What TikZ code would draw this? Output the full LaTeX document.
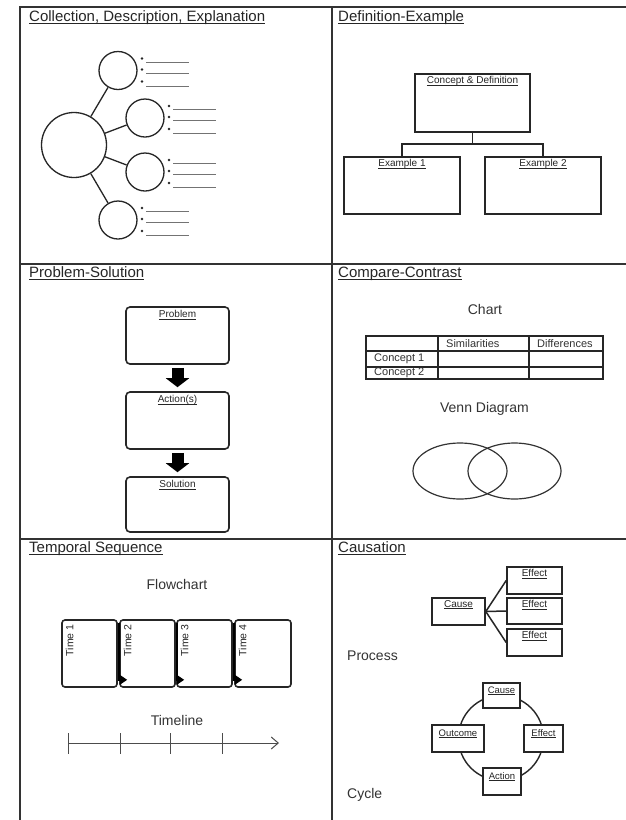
\documentclass[tikz,border=0pt]{standalone}
\usepackage{fontspec}
\setmainfont{Liberation Sans}
\usetikzlibrary{arrows.meta,calc,shapes.geometric}
\newsavebox{\myulbox}
\newcommand{\myul}[1]{\sbox{\myulbox}{#1}\rlap{\rule[-0.16em]{\wd\myulbox}{0.07em}}\usebox{\myulbox}}
\tikzset{
  frame/.style={line width=1.6pt, draw=black!80},
  title/.style={anchor=base west, inner sep=0pt, font=\fontsize{15}{15}\selectfont, text=black!85},
  sub/.style={anchor=base, inner sep=0pt, font=\fontsize{14}{14}\selectfont, text=black!80},
  box/.style={draw=black!85, line width=1.6pt, inner sep=0pt, fill=white},
  rbox/.style={box, rounded corners=4pt},
  lbl/.style={anchor=north, inner sep=0pt, font=\fontsize{10}{10}\selectfont, text=black!85},
  bigc/.style={circle, draw=black!85, line width=1.3pt, minimum size=65pt, inner sep=0pt},
  smallc/.style={circle, draw=black!85, line width=1.3pt, minimum size=38pt, inner sep=0pt},
  spoke/.style={draw=black!85, line width=1.3pt},
  listline/.style={draw=black!55, line width=0.8pt},
  conn/.style={draw=black!85, line width=1.5pt},
  blockar/.style={draw=black, line width=12pt, -{Triangle[length=9pt,width=23pt]}, shorten <=3pt, shorten >=4pt},
  tab/.style={draw=black!85, line width=1.3pt},
  tabt/.style={anchor=west, inner sep=0pt, font=\fontsize{11}{11}\selectfont, text=black!80},
  venn/.style={ellipse, draw=black!80, line width=1.2pt, inner sep=0pt},
  flowar/.style={draw=black, line width=2pt, -{Triangle[length=7pt,width=9pt]}},
  tlline/.style={draw=black!70, line width=1pt},
}
\begin{document}
\begin{tikzpicture}[x=1pt,y=-1pt]
\useasboundingbox (0,0) rectangle (626,820);
\fill[white] (0,0) rectangle (626,820);
% frame
\draw[frame] (626,7) -- (20,7) -- (20,820);
\draw[frame] (332,7) -- (332,820);
\draw[frame] (20,264) -- (626,264);
\draw[frame] (20,539) -- (626,539);
% titles
\node[title] (T1) at (29,21.5) {\myul{Collection, Description, Explanation}};
\node[title] (T2) at (338,21.5) {\myul{Definition-Example}};
\node[title] (T3) at (29,277.5) {\myul{Problem-Solution}};
\node[title] (T4) at (338,277.5) {\myul{Compare-Contrast}};
\node[title] (T5) at (29,552.5) {\myul{Temporal Sequence}};
\node[title] (T6) at (338,552.5) {\myul{Causation}};

% ---- panel 1
\node[bigc] (c0) at (74,145) {};
\node[smallc] (c1) at (118,70.5) {};
\node[smallc] (c2) at (145,118) {};
\node[smallc] (c3) at (145,172) {};
\node[smallc] (c4) at (118,220) {};
\foreach \c in {c1,c2,c3,c4} {
  \draw[spoke] (c0) -- (\c);
  \foreach \dy/\ly in {-12/-8.5,-1/2.5,11/15.5} {
    \fill[black!85] ($(\c)+(24,\dy)$) circle (1.3);
    \draw[listline] ($(\c)+(28,\ly)$) -- ++(43,0);
  }
}

% ---- panel 2
\node[box, minimum width=115pt, minimum height=58pt] (cd) at (472.5,103) {};
\node[box, minimum width=116pt, minimum height=57pt] (ex1) at (402,185.5) {};
\node[box, minimum width=116pt, minimum height=57pt] (ex2) at (543,185.5) {};
\node[lbl] (cdl) at ([yshift=-3pt]cd.north) {\myul{Concept \& Definition}};
\node[lbl] (ex1l) at ([yshift=-3pt]ex1.north) {\myul{Example 1}};
\node[lbl] (ex2l) at ([yshift=-3pt]ex2.north) {\myul{Example 2}};
\coordinate (j) at (472.5,144);
\draw[conn] (cd.south) -- (j);
\draw[conn] (j) -| (ex1.north);
\draw[conn] (j) -| (ex2.north);

% ---- panel 3
\node[rbox, minimum width=103pt, minimum height=57pt] (prob) at (177.5,335.5) {};
\node[rbox, minimum width=103pt, minimum height=57pt] (act) at (177.5,420.5) {};
\node[rbox, minimum width=103pt, minimum height=55pt] (sol) at (177.5,504.5) {};
\node[lbl] (probl) at ([yshift=-4pt]prob.north) {\myul{Problem}};
\node[lbl] (actl) at ([yshift=-4pt]act.north) {\myul{Action(s)}};
\node[lbl] (soll) at ([yshift=-4pt]sol.north) {\myul{Solution}};
\draw[blockar] (prob) -- (act);
\draw[blockar] (act) -- (sol);

% ---- panel 4
\node[sub] (chart) at (485,314) {Chart};
\draw[tab] (366,336) rectangle (603,379);
\draw[tab] (366,351) -- (603,351);
\draw[tab] (366,367) -- (603,367);
\draw[tab] (438,336) -- (438,379);
\draw[tab] (529,336) -- (529,379);
\node[tabt] (sim) at (446,343.5) {Similarities};
\node[tabt] (dif) at (537,343.5) {Differences};
\node[tabt] (k1) at (374,359) {Concept 1};
\node[tabt] (k2) at (374,373) {Concept 2};
\node[sub] (venn) at (484.5,412) {Venn Diagram};
\node[venn, minimum width=94pt, minimum height=56pt] (v1) at (460,471) {};
\node[venn, minimum width=93pt, minimum height=56pt] (v2) at (514.5,471) {};

% ---- panel 5
\node[sub] (flow) at (177,589) {Flowchart};
\node[box, rounded corners=3pt, minimum width=55pt, minimum height=67pt] (b1) at (89.5,653.5) {};
\node[box, rounded corners=3pt, minimum width=55pt, minimum height=67pt] (b2) at (147.5,653.5) {};
\node[box, rounded corners=3pt, minimum width=55pt, minimum height=67pt] (b3) at (204.5,653.5) {};
\node[box, rounded corners=3pt, minimum width=56pt, minimum height=67pt] (b4) at (263,653.5) {};
\foreach \b/\n in {b1/1,b2/2,b3/3,b4/4} {
  \node[lbl, font=\fontsize{10.5}{10.5}\selectfont, rotate=90, anchor=east] (\b l) at ([xshift=8.5pt,yshift=-5pt]\b.north west) {Time \n};
}
\draw[flowar] ([xshift=1.5pt,yshift=-4pt]b1.north east) |- ([xshift=8pt,yshift=8pt]b2.south west);
\draw[flowar] ([xshift=1pt,yshift=-4pt]b2.north east) |- ([xshift=8pt,yshift=8pt]b3.south west);
\draw[flowar] ([xshift=1.5pt,yshift=-4pt]b3.north east) |- ([xshift=8pt,yshift=8pt]b4.south west);
\node[sub] (tline) at (177,725.5) {Timeline};
\coordinate (tl0) at (68,743);
\coordinate (tl1) at (279,743);
\draw[tlline, -{Straight Barb[length=7pt,width=12pt]}] (tl0) -- (tl1);
\foreach \x in {68,120,170,222} { \draw[tlline] (\x,733) -- (\x,754); }

% ---- panel 6
\node[box, minimum width=53pt, minimum height=27pt] (cause) at (458.5,611.5) {};
\node[box, minimum width=55pt, minimum height=27pt] (e1) at (534.5,580.5) {};
\node[box, minimum width=55pt, minimum height=26pt] (e2) at (534.5,611) {};
\node[box, minimum width=55pt, minimum height=27pt] (e3) at (534.5,642.5) {};
\node[lbl] (causel) at ([yshift=-3pt]cause.north) {\myul{Cause}};
\node[lbl] (e1l) at ([yshift=-3pt]e1.north) {\myul{Effect}};
\node[lbl] (e2l) at ([yshift=-3pt]e2.north) {\myul{Effect}};
\node[lbl] (e3l) at ([yshift=-3pt]e3.north) {\myul{Effect}};
\draw[conn] (cause.east) -- (e1.west);
\draw[conn] (cause.east) -- (e2.west);
\draw[conn] (cause.east) -- (e3.west);
\node[sub, anchor=base west] (proc) at (347,660) {Process};

\node[circle, draw=black!85, line width=1.4pt, minimum size=85pt, inner sep=0pt] (cyc) at (501,738) {};
\node[box, minimum width=37pt, minimum height=25pt] (cy1) at (501.5,695.5) {};
\node[box, minimum width=39pt, minimum height=27pt] (cy2) at (543.5,738.5) {};
\node[box, minimum width=38pt, minimum height=27pt] (cy3) at (502,781.5) {};
\node[box, minimum width=52pt, minimum height=27pt] (cy4) at (458,738.5) {};
\node[lbl, font=\fontsize{9.5}{9.5}\selectfont] (cy1l) at ([yshift=-4pt]cy1.north) {\myul{Cause}};
\node[lbl, font=\fontsize{9.5}{9.5}\selectfont] (cy2l) at ([yshift=-5pt]cy2.north) {\myul{Effect}};
\node[lbl, font=\fontsize{9.5}{9.5}\selectfont] (cy3l) at ([yshift=-5pt]cy3.north) {\myul{Action}};
\node[lbl, font=\fontsize{9.5}{9.5}\selectfont] (cy4l) at ([yshift=-5pt]cy4.north) {\myul{Outcome}};
\node[sub, anchor=base west] (cycle) at (347,798) {Cycle};
\end{tikzpicture}
\end{document}
